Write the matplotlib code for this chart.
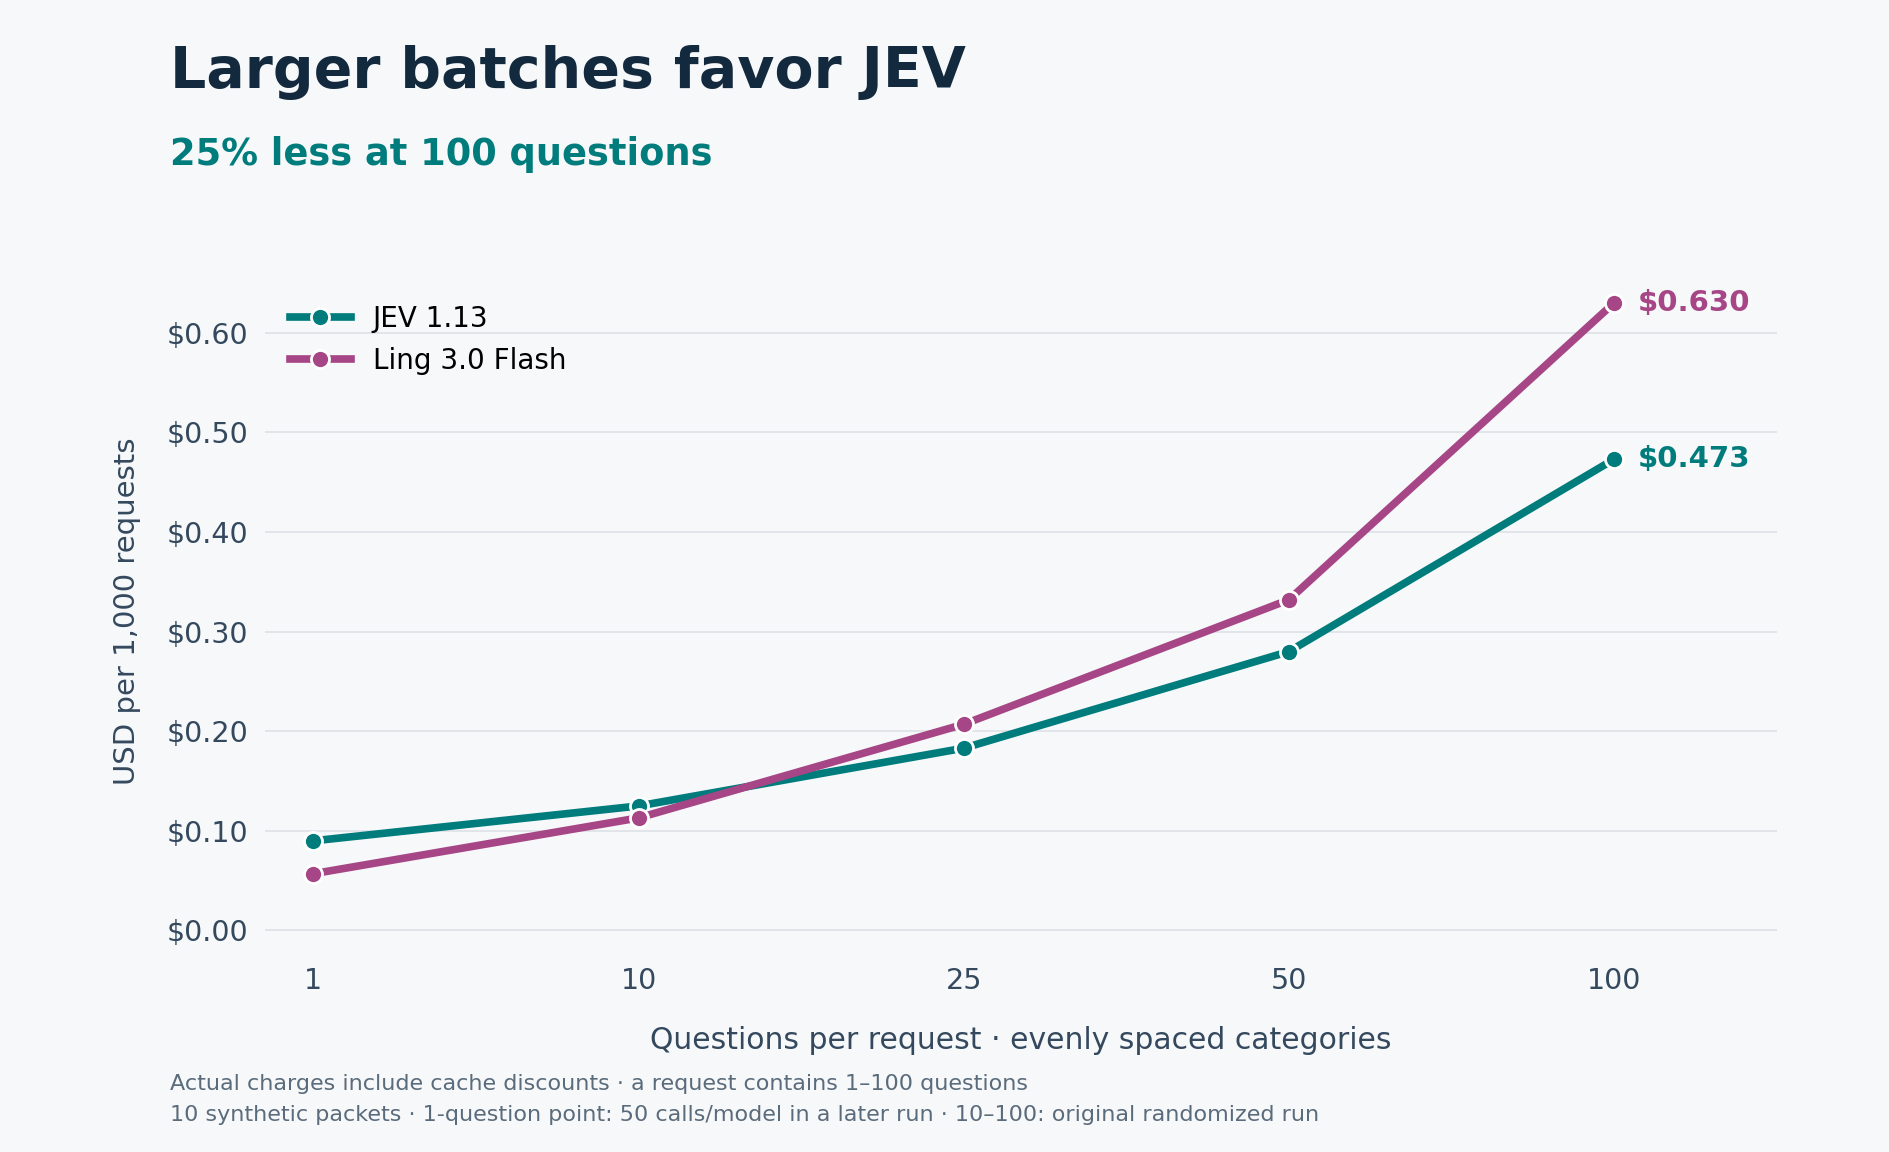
import matplotlib
matplotlib.use("Agg")
import matplotlib.pyplot as plt

categories = ["1", "10", "25", "50", "100"]
jev = [0.090, 0.125, 0.183, 0.280, 0.473]
ling = [0.057, 0.113, 0.207, 0.332, 0.630]
yticks = [0.0, 0.1, 0.2, 0.3, 0.4, 0.5, 0.6]

bg = "#F7F8FA"
teal = "#007C7C"
mag = "#A64686"
dark = "#132A3E"
grey = "#34495E"

fig = plt.figure(figsize=(18.9, 11.52), dpi=100, facecolor=bg)
ax = fig.add_axes([0.14, 0.175, 0.80, 0.588], facecolor=bg)
x = list(range(len(categories)))
for vals, col, lab in [(jev, teal, "JEV 1.13"), (ling, mag, "Ling 3.0 Flash")]:
    ax.plot(x, vals, color=col, lw=5.5, marker="o", ms=13, mec="white", mew=2, label=lab, zorder=3)
    ax.annotate(f"${vals[-1]:.3f}", (x[-1], vals[-1]), xytext=(17, 0), textcoords="offset points",
                color=col, fontsize=21, fontweight="bold", va="center")
ax.set_xlim(-0.15, 4.5)
ax.set_ylim(-0.02, 0.66)
ax.set_xticks(x, categories)
ax.set_yticks(yticks, [f"${v:.2f}" for v in yticks])
ax.grid(axis="y", color="#DDE1E6", lw=1.2)
ax.set_axisbelow(True)
for s in ax.spines.values():
    s.set_visible(False)
ax.tick_params(length=0, labelsize=20.5, colors=grey, pad=12)
ax.set_xlabel("Questions per request · evenly spaced categories", fontsize=21.5, color=grey, labelpad=22)
ax.set_ylabel("USD per 1,000 requests", fontsize=21, color=grey, labelpad=18)
leg = ax.legend(loc="upper left", bbox_to_anchor=(0.0, 0.99), frameon=False, fontsize=20, handlelength=2.2)

fig.text(0.09, 0.937, "Larger batches favor JEV", fontsize=41, fontweight="bold", color=dark, va="center")
fig.text(0.09, 0.866, "25% less at 100 questions", fontsize=26.5, fontweight="bold", color=teal, va="center")
fig.text(0.09, 0.059, "Actual charges include cache discounts · a request contains 1–100 questions",
         fontsize=16, color="#5A6B7B", va="center")
fig.text(0.09, 0.032, "10 synthetic packets · 1-question point: 50 calls/model in a later run · 10–100: original randomized run",
         fontsize=16, color="#5A6B7B", va="center")
fig.savefig("out.png", dpi=100, facecolor=bg)
